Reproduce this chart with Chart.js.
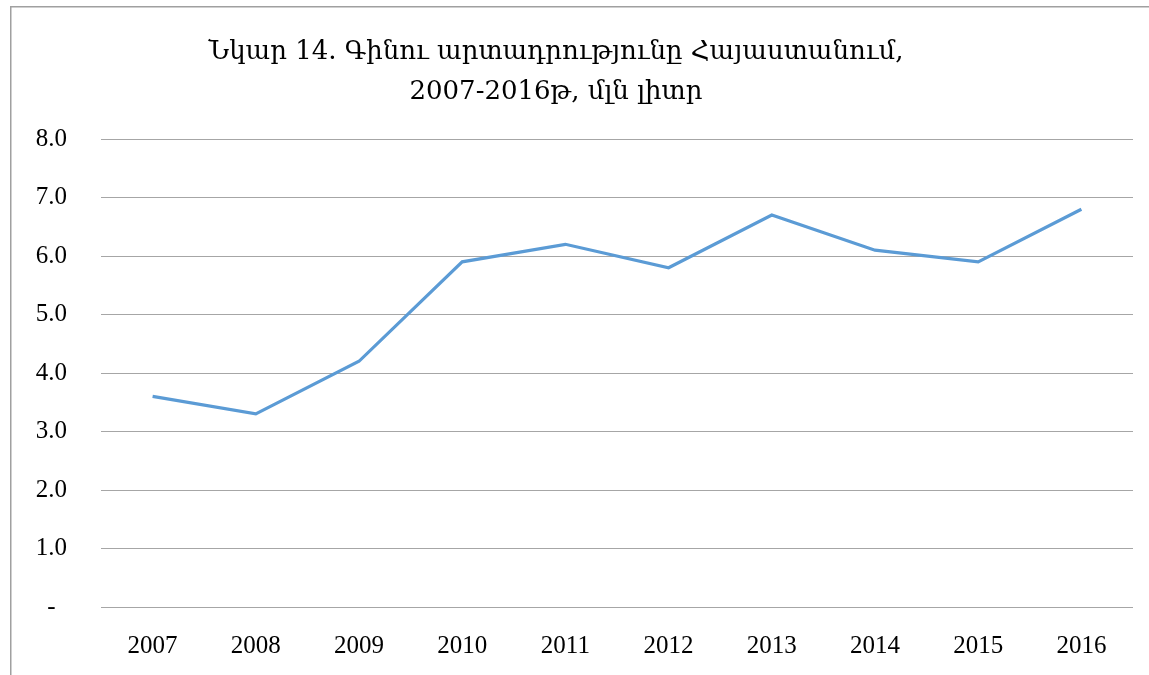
<!DOCTYPE html>
<html>
<head>
<meta charset="utf-8">
<script src="https://cdn.jsdelivr.net/npm/chart.js"></script>
<style>
  html, body { margin: 0; padding: 0; background: #fff; }
  canvas { display: block; }
</style>
</head>
<body>
<canvas id="wineChart" width="1149" height="675"></canvas>
<script>
const years = ['2007', '2008', '2009', '2010', '2011', '2012', '2013', '2014', '2015', '2016'];
const production = [3.6, 3.3, 4.2, 5.9, 6.2, 5.8, 6.7, 6.1, 5.9, 6.8];
const titleLines = ['Նկար 14. Գինու արտադրությունը Հայաստանում,', '2007-2016թ, մլն լիտր'];

const FONT = '"Liberation Serif", "DejaVu Serif", serif';
const TITLE_FONT = '"DejaVu Serif", serif';

// frame + two-line title drawn by hand
const framePlugin = {
  id: 'frame',
  afterDraw(chart) {
    const ctx = chart.ctx;
    ctx.save();
    ctx.strokeStyle = '#a0a0a0';
    ctx.lineWidth = 1.5;
    ctx.beginPath();
    ctx.moveTo(10.75, 675);
    ctx.lineTo(10.75, 6.75);
    ctx.lineTo(1149, 6.75);
    ctx.stroke();

    ctx.fillStyle = '#000';
    ctx.font = '26px ' + TITLE_FONT;
    ctx.textAlign = 'center';
    ctx.textBaseline = 'alphabetic';
    ctx.fillText(titleLines[0], 556, 59);
    ctx.fillText(titleLines[1], 556, 99);
    ctx.restore();
  }
};

const ctx = document.getElementById('wineChart').getContext('2d');
new Chart(ctx, {
  type: 'line',
  data: {
    labels: years,
    datasets: [{
      data: production,
      borderColor: '#5b9bd5',
      borderWidth: 3.2,
      pointRadius: 0,
      tension: 0,
      fill: false
    }]
  },
  options: {
    responsive: false,
    animation: false,
    layout: { padding: { top: 139, right: 16, left: 0, bottom: 0 } },
    plugins: {
      legend: { display: false },
      title: { display: false },
      tooltip: { enabled: false }
    },
    scales: {
      x: {
        offset: true,
        grid: { display: false, drawTicks: false },
        border: { display: false },
        ticks: { color: '#000', font: { family: FONT, size: 25 }, padding: 24, maxRotation: 0 },
        afterFit(scale) { scale.height = 68; }
      },
      y: {
        min: 0,
        max: 8,
        grid: { color: '#a6a6a6', lineWidth: 1, drawTicks: false },
        border: { display: false },
        ticks: {
          stepSize: 1,
          color: '#000',
          crossAlign: 'center',
          padding: 34,
          font: { family: FONT, size: 25 },
          callback: v => v === 0 ? '-' : v.toFixed(1)
        },
        afterFit(scale) { scale.width = 101; }
      }
    }
  },
  plugins: [framePlugin]
});
</script>
</body>
</html>
